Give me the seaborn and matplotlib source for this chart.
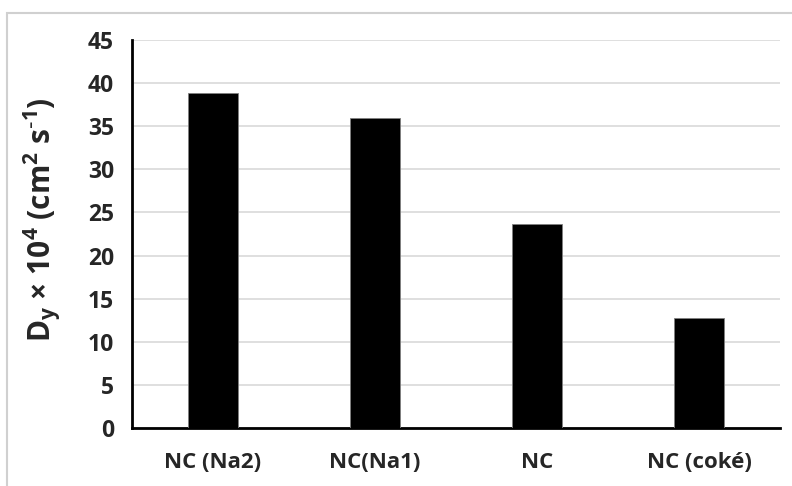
import matplotlib
matplotlib.use("Agg")
import matplotlib.pyplot as plt
import seaborn as sns
import pandas as pd
from matplotlib.patches import Rectangle

categories = ["NC (Na2)", "NC(Na1)", "NC", "NC (coké)"]
values = [38.9, 35.9, 23.7, 12.7]
yticks = [0, 5, 10, 15, 20, 25, 30, 35, 40, 45]

sns.set_style("white")
plt.rcParams['font.family'] = ['Open Sans', 'DejaVu Sans']

df = pd.DataFrame({"cat": categories, "val": values})

fig = plt.figure(figsize=(7.92, 4.86), dpi=100)
ax = fig.add_axes([132/792, (486-428)/486, (780-132)/792, (428-40)/486])

sns.barplot(data=df, x="cat", y="val", color="black", width=0.31,
            edgecolor="#7f7f7f", linewidth=0.6, ax=ax, zorder=3)

ax.set_ylim(0, 45)
ax.set_yticks(yticks)
ax.set_xlim(-0.5, 3.5)
ax.yaxis.grid(True, color="#d9d9d9", linewidth=1.2, zorder=0)
ax.set_axisbelow(True)
for s in ["top", "right"]:
    ax.spines[s].set_visible(False)
ax.spines["left"].set_color("black")
ax.spines["left"].set_linewidth(2)
ax.spines["bottom"].set_color("black")
ax.spines["bottom"].set_linewidth(2)
ax.tick_params(axis="y", direction="out", length=8, width=1.5, color="black",
               labelsize=16.5, pad=5)
ax.tick_params(axis="x", length=0, labelsize=16, pad=17)
for lab in ax.get_yticklabels() + ax.get_xticklabels():
    lab.set_fontweight("bold")
ax.set_xlabel("")
ax.set_ylabel(r"D$_\mathregular{y}$ × 10$^\mathregular{4}$ (cm$^\mathregular{2}$ s$^\mathregular{\text{-}1}$)",
              fontsize=21.5, fontweight="bold")
ax.yaxis.set_label_coords(-0.106, 0.536)

fig.patches.append(Rectangle((7/792, -0.02), 1.0, (486-13)/486 + 0.02,
                             transform=fig.transFigure, fill=False,
                             edgecolor="#d0d0d0", linewidth=1.5))

fig.savefig("out.png", dpi=100)
